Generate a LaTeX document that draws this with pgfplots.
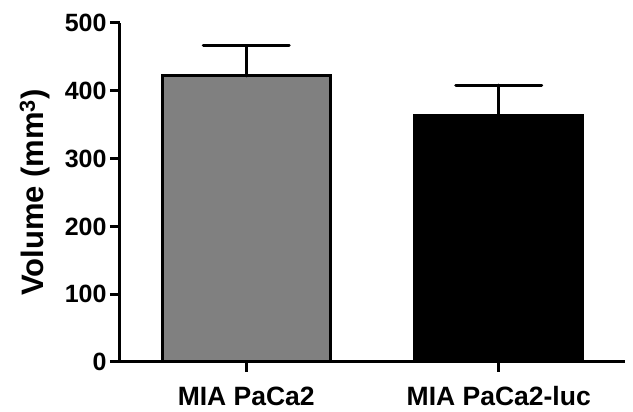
\documentclass[border=0pt]{standalone}
\usepackage{pgfplots}
\pgfplotsset{compat=1.18}
\usepackage{fontspec}
\setmainfont{Liberation Sans}
\begin{document}
\begin{tikzpicture}
\useasboundingbox (-120pt,-50pt) rectangle (513pt,362pt);
\begin{axis}[
  at={(0,0)}, anchor=south west,
  scale only axis, width=505pt, height=339pt,
  xmin=-0.5, xmax=1.5, ymin=0, ymax=500,
  axis x line*=bottom, axis y line*=left,
  axis line style={line width=3pt, -},
  xtick={0,1}, xticklabels={MIA PaCa2, MIA PaCa2-luc},
  ytick={0,100,200,300,400,500},
  tick align=outside, major tick length=10pt,
  tick style={black, line width=3pt},
  major tick style={black, line width=3pt},
  yticklabel style={font=\fontsize{25}{28}\selectfont\bfseries},
  xticklabel style={font=\fontsize{26.5}{30}\selectfont\bfseries, yshift=-11pt},
  /pgf/number format/assume math mode=true,
  ylabel={Volume (mm\textsuperscript{3})},
  every axis y label/.style={at={(axis description cs:0,0.5)}, rotate=90, anchor=center, yshift=85pt, font=\fontsize{31}{36}\selectfont\bfseries},
  clip=false,
]
\addplot[ybar, bar width=168pt, bar shift=0pt, fill={rgb,255:red,128;green,128;blue,128}, draw=black, line width=3pt,
  error bars/.cd, y dir=plus, y explicit,
  error bar style={line width=3pt, black, line cap=round},
  error mark options={rotate=90, mark size=43pt, line width=3pt, line cap=round}]
  coordinates {(0,422) +- (0,44.5)};
\addplot[ybar, bar width=168pt, bar shift=0pt, fill=black, draw=black, line width=3pt,
  error bars/.cd, y dir=plus, y explicit,
  error bar style={line width=3pt, black, line cap=round},
  error mark options={rotate=90, mark size=43pt, line width=3pt, line cap=round}]
  coordinates {(1,363) +- (0,45.5)};
\end{axis}
\end{tikzpicture}
\end{document}
